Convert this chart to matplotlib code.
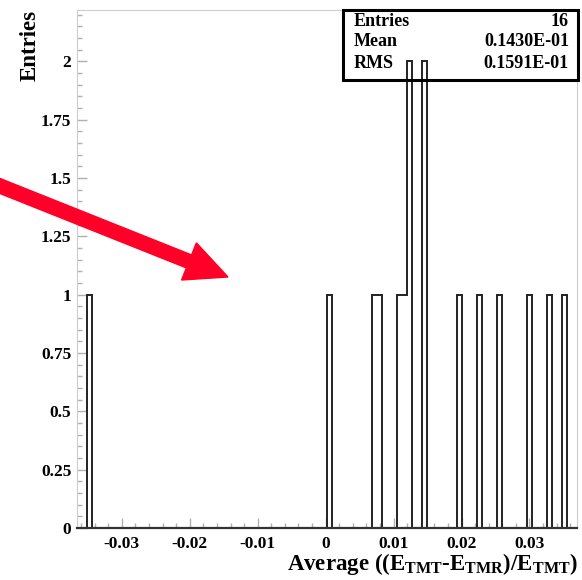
#!/usr/bin/env python3

import matplotlib
matplotlib.use("Agg")
import matplotlib.pyplot as plt
import numpy as np
from matplotlib.patches import FancyArrow, Rectangle
from matplotlib.ticker import AutoMinorLocator, FixedLocator

# entries (one value per entry)
values = [
    -0.0348, 0.0006, 0.0072, 0.0079, 0.0109, 0.0116, 0.0124, 0.0124,
    0.0146, 0.0146, 0.0197, 0.0227, 0.0256, 0.0300, 0.0330, 0.0352,
]
x_lo, x_hi, n_bins = -0.0366, 0.0370, 100

stat_names = ["Entries", "Mean", "RMS"]
stat_values = ["16", "0.1430E-01", "0.1591E-01"]

x_ticks = [-0.03, -0.02, -0.01, 0, 0.01, 0.02, 0.03]
x_tick_labels = ["-0.03", "-0.02", "-0.01", "0", "0.01", "0.02", "0.03"]
y_ticks = [0, 0.25, 0.5, 0.75, 1, 1.25, 1.5, 1.75, 2]
y_tick_labels = ["0", "0.25", "0.5", "0.75", "1", "1.25", "1.5", "1.75", "2"]

plt.rcParams.update({
    "font.family": ["Liberation Serif", "DejaVu Serif"],
    "font.weight": "bold",
    "mathtext.fontset": "custom",
    "mathtext.rm": "Liberation Serif:bold",
    "mathtext.bf": "Liberation Serif:bold",
})

W, H = 582, 580
fig = plt.figure(figsize=(W / 100, H / 100), dpi=100)
ax = fig.add_axes([77 / W, 1 - 528 / H, 500 / W, 518 / H])

bins = np.linspace(x_lo, x_hi, n_bins + 1)
ax.hist(values, bins=bins, histtype="step", color="#222222", linewidth=1.4)

ax.set_xlim(x_lo, x_hi)
ax.set_ylim(0, 2.22)

ax.xaxis.set_major_locator(FixedLocator(x_ticks))
ax.set_xticklabels(x_tick_labels)
ax.yaxis.set_major_locator(FixedLocator(y_ticks))
ax.set_yticklabels(y_tick_labels)
ax.xaxis.set_minor_locator(AutoMinorLocator(5))
ax.yaxis.set_minor_locator(AutoMinorLocator(5))

ax.tick_params(which="both", direction="in", color="#b0b0b0", labelsize=12.5)
ax.tick_params(which="major", length=7, width=1)
ax.tick_params(which="minor", length=3.5, width=1)
ax.tick_params(axis="x", pad=6)
ax.tick_params(axis="y", pad=4)
ax.tick_params(top=False, right=False, which="both")

for side in ["left", "top", "right"]:
    ax.spines[side].set_color("#cccccc")
ax.spines["bottom"].set_color("#333333")
ax.spines["bottom"].set_linewidth(1.6)

# axis titles in ROOT style
fig.text(30 / W, 1 - 10 / H, "Entries", rotation=90, ha="center", va="top",
         fontsize=16.5, fontweight="bold")
fig.text(578 / W, 10 / H,
         r"Average ((E$_{\mathbf{TMT}}$-E$_{\mathbf{TMR}}$)/E$_{\mathbf{TMT}}$)",
         ha="right", va="baseline", fontsize=16.5, fontweight="bold")

# stats box
fig.add_artist(Rectangle((343 / W, 1 - 80 / H), 235 / W, 70 / H,
                         transform=fig.transFigure, facecolor="none",
                         edgecolor="black", linewidth=2.2))
for i, (name, val) in enumerate(zip(stat_names, stat_values)):
    yy = 1 - (21 + 21 * i) / H
    fig.text(354 / W, yy, name, ha="left", va="center", fontsize=13,
             fontweight="bold")
    fig.text(569 / W, yy, val, ha="right", va="center", fontsize=13,
             fontweight="bold")

# red arrow pointing into the empty region
arrow = FancyArrow(-10 / 100, (H - 182) / 100, 238 / 100, -95 / 100,
                   width=14 / 100, head_width=40 / 100, head_length=42 / 100,
                   length_includes_head=True, color="#ff0028",
                   transform=fig.dpi_scale_trans)
fig.add_artist(arrow)

fig.savefig("out.png", dpi=100)
